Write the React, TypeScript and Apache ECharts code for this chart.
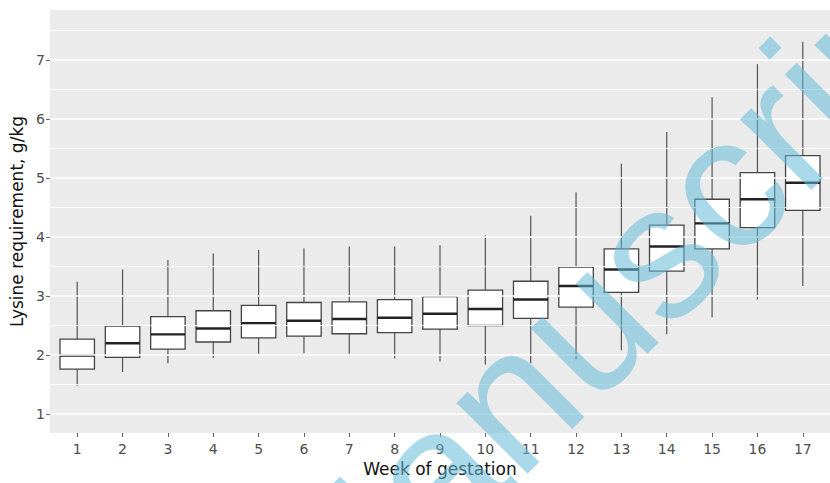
import React, { useEffect, useRef } from "react";
import * as echarts from "echarts";

// Week of gestation (categories)
const weeks = [1, 2, 3, 4, 5, 6, 7, 8, 9, 10, 11, 12, 13, 14, 15, 16, 17];
// Box-plot statistics, lysine requirement g/kg
const whiskerLow = [1.48, 1.71, 1.86, 1.95, 2.02, 2.03, 2.02, 1.94, 1.89, 1.84, 1.86, 1.93, 2.08, 2.35, 2.64, 2.94, 3.17];
const q1 = [1.76, 1.96, 2.1, 2.22, 2.29, 2.32, 2.36, 2.38, 2.44, 2.5, 2.62, 2.81, 3.06, 3.42, 3.8, 4.16, 4.45];
const median = [1.99, 2.2, 2.35, 2.45, 2.54, 2.58, 2.61, 2.63, 2.7, 2.78, 2.94, 3.17, 3.45, 3.84, 4.23, 4.64, 4.92];
const q3 = [2.27, 2.49, 2.65, 2.75, 2.84, 2.89, 2.9, 2.94, 2.99, 3.1, 3.25, 3.49, 3.8, 4.2, 4.64, 5.09, 5.38];
const whiskerHigh = [3.24, 3.45, 3.61, 3.72, 3.78, 3.81, 3.84, 3.84, 3.86, 4.03, 4.36, 4.76, 5.24, 5.78, 6.37, 6.93, 7.31];
// Axis ticks / grid breaks
const yTicks = [1, 2, 3, 4, 5, 6, 7];
const majorBreaks = [1, 2, 3, 4, 5, 6, 7];
const minorBreaks = [1.5, 2.5, 3.5, 4.5, 5.5, 6.5, 7.5];

const FONT = "DejaVu Sans";

export default function App() {
  const ref = useRef<HTMLDivElement>(null);

  useEffect(() => {
    document.body.style.margin = "0";
    const chart = echarts.init(ref.current as HTMLDivElement, null, { renderer: "svg" });
    const data = weeks.map((w, i) => [w, whiskerLow[i], q1[i], median[i], q3[i], whiskerHigh[i]]);

    const gridLines = [
      ...minorBreaks.map((v) => ({ yAxis: v, lineStyle: { color: "#ffffff", width: 0.9, type: "solid" } })),
      ...majorBreaks.map((v) => ({ yAxis: v, lineStyle: { color: "#ffffff", width: 1.5, type: "solid" } })),
    ];

    chart.setOption({
      animation: false,
      grid: {
        left: 50,
        right: -11.2,
        top: 10,
        bottom: 50,
        show: true,
        backgroundColor: "#EBEBEB",
        borderWidth: 0,
        containLabel: false,
      },
      xAxis: {
        type: "value",
        min: 0.4,
        max: 17.6,
        axisLine: { show: false },
        splitLine: { show: false },
        axisTick: { show: true, customValues: weeks, length: 4, lineStyle: { color: "#666", width: 1 } },
        axisLabel: {
          customValues: weeks,
          color: "#4D4D4D",
          fontSize: 14,
          fontFamily: FONT,
          margin: 9,
          formatter: (v: number) => String(Math.round(v)),
        },
        name: "Week of gestation",
        nameLocation: "middle",
        nameGap: 27,
        nameTextStyle: { color: "#111", fontSize: 17, fontFamily: FONT },
      },
      yAxis: {
        type: "value",
        min: 0.678,
        max: 7.847,
        axisLine: { show: false },
        splitLine: { show: false },
        axisTick: { show: true, customValues: yTicks, length: 4, lineStyle: { color: "#666", width: 1 } },
        axisLabel: {
          customValues: yTicks,
          color: "#4D4D4D",
          fontSize: 14,
          fontFamily: FONT,
          margin: 5,
          formatter: (v: number) => String(Math.round(v)),
        },
        name: "Lysine requirement, g/kg",
        nameLocation: "middle",
        nameGap: 20,
        nameTextStyle: { color: "#111", fontSize: 17, fontFamily: FONT },
      },
      series: [
        {
          type: "line",
          data: [],
          silent: true,
          z: 1,
          markLine: {
            silent: true,
            symbol: ["none", "none"],
            label: { show: false },
            animation: false,
            data: gridLines,
          },
        },
        {
          type: "custom",
          z: 3,
          data,
          encode: { x: 0, y: [1, 2, 3, 4, 5] },
          renderItem: (params: any, api: any) => {
            const x = api.value(0);
            const lo = api.coord([x, api.value(1)]);
            const b1 = api.coord([x, api.value(2)]);
            const md = api.coord([x, api.value(3)]);
            const b3 = api.coord([x, api.value(4)]);
            const hi = api.coord([x, api.value(5)]);
            const half = api.size([0.76, 0])[0] / 2;
            return {
              type: "group",
              children: [
                {
                  type: "line",
                  shape: { x1: lo[0], y1: lo[1], x2: b1[0], y2: b1[1] },
                  style: { stroke: "#555555", lineWidth: 1.2 },
                },
                {
                  type: "line",
                  shape: { x1: b3[0], y1: b3[1], x2: hi[0], y2: hi[1] },
                  style: { stroke: "#555555", lineWidth: 1.2 },
                },
                {
                  type: "rect",
                  shape: { x: lo[0] - half, y: b3[1], width: half * 2, height: b1[1] - b3[1] },
                  style: { fill: "#ffffff", stroke: "#444444", lineWidth: 1.3 },
                },
                {
                  type: "line",
                  shape: { x1: md[0] - half, y1: md[1], x2: md[0] + half, y2: md[1] },
                  style: { stroke: "#222222", lineWidth: 2.4 },
                },
              ],
            };
          },
        },
      ],
      graphic: [
        {
          type: "text",
          x: 285,
          y: 623,
          rotation: Math.PI / 4,
          z: 100,
          silent: true,
          style: {
            text: "Manuscript",
            fontSize: 190,
            fontFamily: "Liberation Sans",
            fill: "rgba(100,185,215,0.55)",
            align: "left",
            verticalAlign: "middle",
          },
        },
      ],
    });

    return () => chart.dispose();
  }, []);

  return <div ref={ref} style={{ width: 830, height: 483 }} />;
}
